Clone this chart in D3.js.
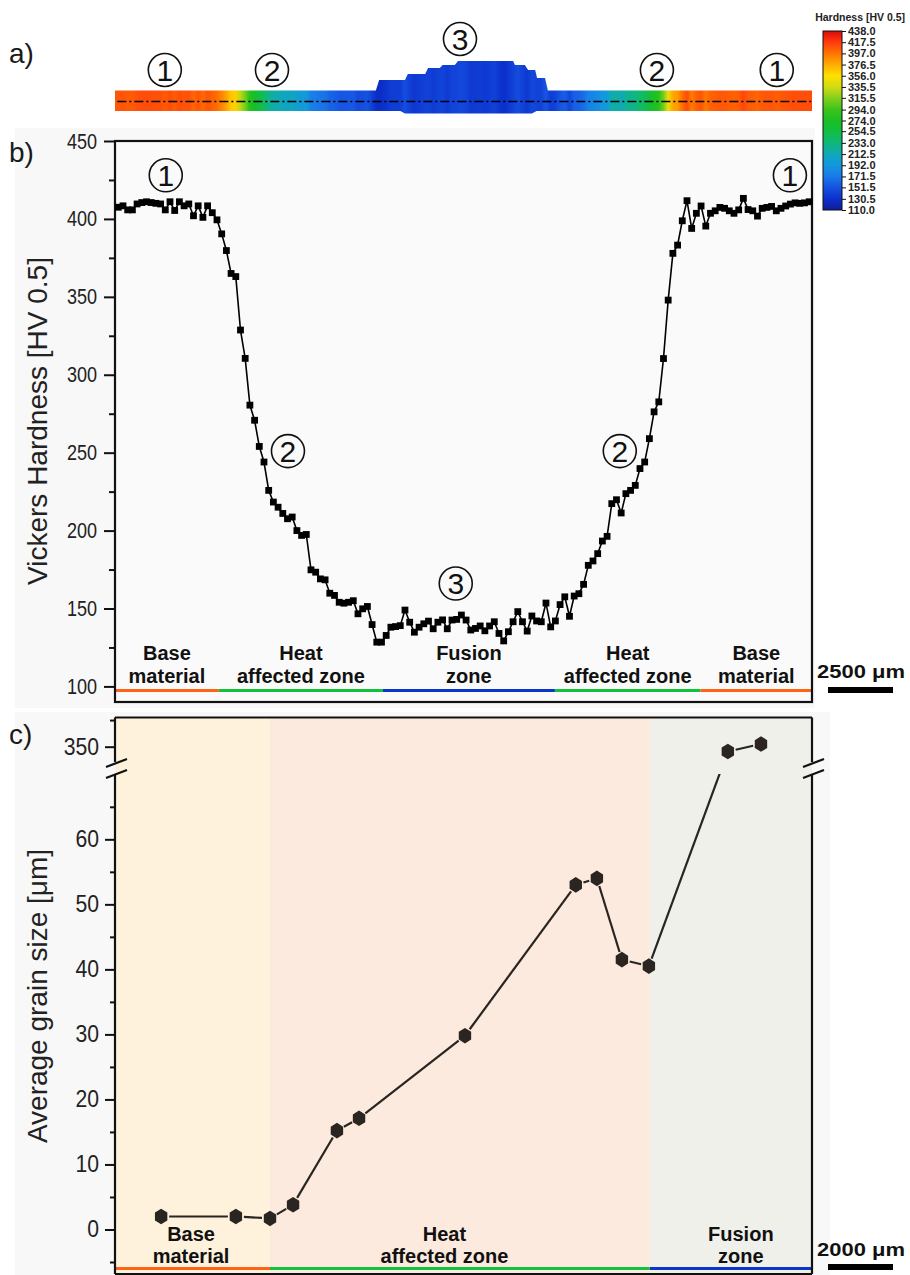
<!DOCTYPE html>
<html>
<head>
<meta charset="utf-8">
<script src="https://cdn.jsdelivr.net/npm/d3@7"></script>
<style>
  body { margin: 0; background: #fff; }
  svg { display: block; }
</style>
</head>
<body>
<div id="figure"></div>
<script>
// ---------- data ----------

// b) Vickers hardness, one value per indent, left to right
const hardness = [
  407.5, 408.4, 405.8, 405.8, 409.6, 410.5, 411, 410.5, 410, 409.6,
  405.8, 411, 405.4, 411, 408.4, 409.6, 402, 408.4, 401, 408.4,
  404, 399.4, 390.4, 379.7, 365, 363, 328.7, 310.5, 280.5,
  270.8, 254, 244, 225.8, 218.3, 215, 211, 207.6, 208.7, 200,
  196.9, 197.5, 174.8, 173.3, 169, 168.4, 159.8, 158.4, 154, 153.4,
  154, 155, 146.6, 149.8, 151.3, 139.7, 128.4, 128.4, 132.7, 138,
  138.4, 139, 149, 141.2, 134.8, 138, 140.2, 141.9, 137, 141.2,
  142.7, 137,
  142.6, 143, 145.8, 142.6, 136.2, 137.2, 138.8, 135.7, 138.8, 141.5,
  134, 129.2, 135.1, 141.5, 148, 141.5, 135.5, 145.2, 142, 141.5,
  153.5, 138.2, 142, 152.5, 157.5, 145, 158, 159.5, 165.5, 177.7,
  180.5, 185.2, 193.3, 196.3, 217.3, 219.8, 211.3, 223.7, 225.8, 229,
  239.8, 244, 259, 276.2, 282.6, 310.4, 347.9, 377.9, 383.2, 398.8,
  411.7, 393.9, 403.6, 408.3, 395.4, 403.6, 405.2, 407.4, 406.8, 405.2,
  403.6, 405.8, 413.2, 406, 405.2, 401.8, 406.8, 407.4, 408, 405.2,
  406.8, 408.3, 409.5, 410.3, 410, 410.3, 411
];
const hvTicks = [100, 150, 200, 250, 300, 350, 400, 450];
const hvMinorTicks = [125, 175, 225, 275, 325, 375, 425];

// zones along the hardness profile (indent-number units)
const profileZones = [
  { zone: "base", label: ["Base", "material"], from: -0.7, to: 21.4 },
  { zone: "haz", label: ["Heat", "affected zone"], from: 21.4, to: 56.3 },
  { zone: "fusion", label: ["Fusion", "zone"], from: 56.3, to: 92.9 },
  { zone: "haz", label: ["Heat", "affected zone"], from: 92.9, to: 123.9 },
  { zone: "base", label: ["Base", "material"], from: 123.9, to: 147.6 }
];

// circled region numbers in b) (indent number, HV)
const profileMarks = [
  { id: "1", at: 10.1, hv: 428 },
  { id: "2", at: 36.1, hv: 251 },
  { id: "3", at: 71.8, hv: 166 },
  { id: "2", at: 106.7, hv: 251 },
  { id: "1", at: 142.9, hv: 428 }
];

// a) circled region numbers above the hardness map (indent number)
const mapMarks = [
  { id: "1", at: 9.9, row: "low" },
  { id: "2", at: 32.7, row: "low" },
  { id: "3", at: 72.7, row: "high" },
  { id: "2", at: 114.6, row: "low" },
  { id: "1", at: 140.1, row: "low" }
];

// a) weld crown outline: [indent number, height above plate]
const weldCrown = [
  [54.8, 0], [55.5, 10.5], [61, 10.5], [61.6, 16.5], [65.3, 16.5], [65.9, 22.5],
  [68.4, 22.5], [69, 25.5], [71.6, 25.5], [72.3, 29.5], [84, 29.5], [84.4, 25.5],
  [86.5, 25.5], [87.2, 20.5], [88.7, 20.5], [89.1, 12.5], [90.8, 12.5], [91.4, 0]
];

// colour bar
const cbLabels = [438.0, 417.5, 397.0, 376.5, 356.0, 335.5, 315.5, 294.0, 274.0,
  254.5, 233.0, 212.5, 192.0, 171.5, 151.5, 130.5, 110.0];
const cbColors = ["#dc0a0a", "#ff3a10", "#ff7400", "#ffab00", "#ffe000", "#d2dc12",
  "#86d01c", "#3cc41c", "#19bf22", "#12bd42", "#10b878", "#10a8b8", "#1496e0",
  "#1a7ae8", "#1652e2", "#0c30cc", "#101c9c"];

// c) average grain size vs position (mm from left edge)
const grainPos = [1.42, 3.72, 4.77, 5.48, 6.83, 7.51, 10.77, 14.18, 14.83, 15.6, 16.43, 18.86, 19.88];
const grainSize = [2.0, 2.0, 1.7, 3.8, 15.2, 17.1, 29.8, 53.0, 54.0, 41.5, 40.5, 349.1, 350.5];
const grainTicks = [0, 10, 20, 30, 40, 50, 60];
const grainMinorTicks = [-5, 5, 15, 25, 35, 45, 55, 65];
const grainTicksHigh = [350];
const grainMinorTicksHigh = [355];
const grainZones = [
  { zone: "base", label: ["Base", "material"], from: 0, to: 4.77, labelAt: 2.34 },
  { zone: "haz", label: ["Heat", "affected zone"], from: 4.77, to: 16.46, labelAt: 10.14 },
  { zone: "fusion", label: ["Fusion", "zone"], from: 16.46, to: 21.45, labelAt: 19.26 }
];

const zoneLine = { base: "#ff6414", haz: "#12c23c", fusion: "#0c36c8" };
const zoneFill = { base: "#fef2dd", haz: "#fdeadf", fusion: "#eff0ea" };

// ---------- figure ----------
const W = 910, H = 1275;
const plainFont = "'Liberation Sans', Arial, sans-serif";
const boldFont = "'Liberation Sans', Arial, sans-serif";

const svg = d3.select("#figure")
  .append("svg")
  .attr("width", W)
  .attr("height", H)
  .style("background", "#fff");

const defs = svg.append("defs");

// squeeze a text horizontally, like the condensed faces of the original
function condense(sel, k) {
  sel.each(function () {
    const w = this.getComputedTextLength();
    d3.select(this).attr("textLength", w * k).attr("lengthAdjust", "spacingAndGlyphs");
  });
}

// shared horizontal position for a) and b)
const xB = d3.scaleLinear().domain([-0.7, 147.6]).range([115, 812]);
const yB = d3.scaleLinear().domain([90, 450]).range([702, 141]);

// hardness colour map
const cbScale = d3.scaleLinear().domain([110, 438]).range([210, 31]);
const hvColor = d3.scaleLinear()
  .domain(cbLabels)
  .range(cbColors)
  .clamp(true);

// light grey panels behind b) and c)
svg.append("rect").attr("x", 15).attr("y", 128).attr("width", 800).attr("height", 580).attr("fill", "#f8f8f8");
svg.append("rect").attr("x", 15).attr("y", 712).attr("width", 815).attr("height", 563).attr("fill", "#f8f8f8");

// panel letters
[["a)", 63], ["b)", 162], ["c)", 744]].forEach(function (p) {
  svg.append("text")
    .attr("x", 9).attr("y", p[1])
    .text(p[0])
    .style("font-family", plainFont)
    .style("font-size", "28px")
    .attr("fill", "#1a1a1a");
});

// ================= a) hardness map =================
const plateTop = 90.5, plateBottom = 111;

const mapGrad = defs.append("linearGradient")
  .attr("id", "mapGrad")
  .attr("gradientUnits", "userSpaceOnUse")
  .attr("x1", xB(0)).attr("x2", xB(hardness.length - 1))
  .attr("y1", 0).attr("y2", 0);

mapGrad.selectAll("stop")
  .data(hardness)
  .enter()
  .append("stop")
  .attr("offset", function (d, i) { return i / (hardness.length - 1); })
  .attr("stop-color", function (d) { return hvColor(d); });

const platePath = d3.path();
platePath.moveTo(xB(-0.7), plateTop);
weldCrown.forEach(function (p) {
  platePath.lineTo(xB(p[0]), plateTop - p[1]);
});
platePath.lineTo(xB(147.6), plateTop);
platePath.lineTo(xB(147.6), plateBottom);
platePath.lineTo(xB(89), plateBottom);
platePath.lineTo(xB(88), plateBottom + 2.5);
platePath.lineTo(xB(61), plateBottom + 2.5);
platePath.lineTo(xB(60), plateBottom);
platePath.lineTo(xB(-0.7), plateBottom);
platePath.closePath();

svg.append("path")
  .attr("d", platePath.toString())
  .attr("fill", "url(#mapGrad)");

// measurement line
svg.append("line")
  .attr("x1", xB(-0.2)).attr("x2", xB(147.4))
  .attr("y1", 101.5).attr("y2", 101.5)
  .attr("stroke", "#000")
  .attr("stroke-width", 1.4)
  .attr("stroke-dasharray", "9,3,2,3");

function circledNumber(g, cx, cy, id) {
  g.append("circle")
    .attr("cx", cx).attr("cy", cy).attr("r", 16.5)
    .attr("fill", "none")
    .attr("stroke", "#111")
    .attr("stroke-width", 1.6);
  g.append("text")
    .attr("x", cx).attr("y", cy + 10.5)
    .attr("text-anchor", "middle")
    .text(id)
    .style("font-family", plainFont)
    .style("font-size", "30px")
    .attr("fill", "#111");
}

mapMarks.forEach(function (m) {
  circledNumber(svg, xB(m.at), m.row === "high" ? 39 : 70, m.id);
});

// colour bar
const cbGrad = defs.append("linearGradient")
  .attr("id", "cbGrad")
  .attr("gradientUnits", "userSpaceOnUse")
  .attr("x1", 0).attr("x2", 0)
  .attr("y1", cbScale(110)).attr("y2", cbScale(438));

cbGrad.selectAll("stop")
  .data(cbLabels.slice().reverse())
  .enter()
  .append("stop")
  .attr("offset", function (d) { return (d - 110) / (438 - 110); })
  .attr("stop-color", function (d) { return hvColor(d); });

svg.append("rect")
  .attr("x", 823).attr("y", cbScale(438))
  .attr("width", 19).attr("height", cbScale(110) - cbScale(438))
  .attr("fill", "url(#cbGrad)")
  .attr("stroke", "#111")
  .attr("stroke-width", 1);

const cbAxis = svg.append("g")
  .attr("transform", "translate(842,0)")
  .call(d3.axisRight(cbScale).tickValues(cbLabels).tickSize(4).tickPadding(2)
    .tickFormat(d3.format(".1f")));
cbAxis.select(".domain").remove();
cbAxis.selectAll("line").attr("stroke", "#111");
cbAxis.selectAll("text")
  .style("font-family", plainFont)
  .style("font-size", "11px")
  .style("font-weight", "bold")
  .attr("fill", "#222");

svg.append("text")
  .attr("x", 905).attr("y", 21)
  .attr("text-anchor", "end")
  .text("Hardness [HV 0.5]")
  .style("font-family", plainFont)
  .style("font-size", "10.5px")
  .style("font-weight", "bold")
  .attr("fill", "#222");

// ================= b) hardness profile =================
svg.append("rect")
  .attr("x", 115).attr("y", 141)
  .attr("width", 697).attr("height", 561)
  .attr("fill", "#fafafa");

// two-line zone caption, one text element
function zoneLabel(g, cx, lines, y1, y2) {
  const t = g.append("text")
    .attr("text-anchor", "middle")
    .style("font-family", boldFont)
    .style("font-weight", "bold")
    .style("font-size", "20px")
    .attr("fill", "#111");
  t.append("tspan").attr("x", cx).attr("y", y1).text(lines[0]);
  t.append("tspan").attr("x", cx).attr("y", y2).text(lines[1]);
}

profileZones.forEach(function (z) {
  svg.append("line")
    .attr("x1", xB(z.from)).attr("x2", xB(z.to))
    .attr("y1", 690.5).attr("y2", 690.5)
    .attr("stroke", zoneLine[z.zone])
    .attr("stroke-width", 3);
  zoneLabel(svg, (xB(z.from) + xB(z.to)) / 2, z.label, 660, 682.5);
});

const yAxisB = svg.append("g")
  .attr("transform", "translate(115,0)")
  .call(d3.axisLeft(yB).tickValues(hvTicks).tickSize(11).tickPadding(7));
yAxisB.select(".domain").remove();
yAxisB.selectAll("line").attr("stroke", "#111").attr("stroke-width", 2);
yAxisB.selectAll("text")
  .style("font-family", plainFont)
  .style("font-size", "22px")
  .attr("fill", "#222")
  .call(condense, 0.82);

const yMinorB = svg.append("g")
  .attr("transform", "translate(115,0)")
  .call(d3.axisLeft(yB).tickValues(hvMinorTicks).tickSize(6).tickFormat(""));
yMinorB.select(".domain").remove();
yMinorB.selectAll("line").attr("stroke", "#111").attr("stroke-width", 2);

svg.append("rect")
  .attr("x", 115).attr("y", 141)
  .attr("width", 697).attr("height", 561)
  .attr("fill", "none")
  .attr("stroke", "#111")
  .attr("stroke-width", 2.2);

const hvLine = d3.line()
  .x(function (d, i) { return xB(i); })
  .y(function (d) { return yB(d); });

svg.append("path")
  .datum(hardness)
  .attr("d", hvLine)
  .attr("fill", "none")
  .attr("stroke", "#000")
  .attr("stroke-width", 1.6);

svg.selectAll(".hv-point")
  .data(hardness)
  .enter()
  .append("rect")
  .attr("class", "hv-point")
  .attr("x", function (d, i) { return xB(i) - 3.4; })
  .attr("y", function (d) { return yB(d) - 3.4; })
  .attr("width", 6.8)
  .attr("height", 6.8)
  .attr("fill", "#000");

profileMarks.forEach(function (m) {
  circledNumber(svg, xB(m.at), yB(m.hv), m.id);
});

svg.append("text")
  .attr("transform", "translate(47,421) rotate(-90)")
  .attr("text-anchor", "middle")
  .text("Vickers Hardness [HV 0.5]")
  .style("font-family", plainFont)
  .style("font-size", "28px")
  .attr("fill", "#222");

function scaleBar(g, label, textY, barY) {
  g.append("text")
    .attr("x", 861).attr("y", textY)
    .attr("text-anchor", "middle")
    .text(label)
    .style("font-family", boldFont)
    .style("font-weight", "bold")
    .style("font-size", "18px")
    .attr("fill", "#111")
    .attr("textLength", 88)
    .attr("lengthAdjust", "spacingAndGlyphs");
  g.append("rect")
    .attr("x", 828).attr("y", barY)
    .attr("width", 65).attr("height", 6)
    .attr("fill", "#000");
}
scaleBar(svg, "2500 \u03bcm", 678, 687);

// ================= c) grain size =================
const xC = d3.scaleLinear().domain([0, 21.45]).range([115, 812]);
const yCl = d3.scaleLinear().domain([-7, 70.2]).range([1275, 773]);
const yCu = d3.scaleLinear().domain([346.6, 355.5]).range([764.8, 717.4]);
const cTop = 717.5, cBottom = 1274, breakTop = 762, breakBottom = 774;

grainZones.forEach(function (z) {
  svg.append("rect")
    .attr("x", xC(z.from)).attr("y", cTop)
    .attr("width", xC(z.to) - xC(z.from))
    .attr("height", cBottom - cTop)
    .attr("fill", zoneFill[z.zone]);
  svg.append("line")
    .attr("x1", xC(z.from)).attr("x2", xC(z.to))
    .attr("y1", 1268.5).attr("y2", 1268.5)
    .attr("stroke", zoneLine[z.zone])
    .attr("stroke-width", 3);
  zoneLabel(svg, xC(z.labelAt), z.label, 1240.5, 1263);
});

function gAxis(scale, major, minor) {
  const a = svg.append("g")
    .attr("transform", "translate(115,0)")
    .call(d3.axisLeft(scale).tickValues(major).tickSize(10).tickPadding(6));
  a.select(".domain").remove();
  a.selectAll("line").attr("stroke", "#111").attr("stroke-width", 2);
  a.selectAll("text")
    .style("font-family", plainFont)
    .style("font-size", "23px")
    .attr("fill", "#222")
    .call(condense, 0.92);
  const m = svg.append("g")
    .attr("transform", "translate(115,0)")
    .call(d3.axisLeft(scale).tickValues(minor).tickSize(5).tickFormat(""));
  m.select(".domain").remove();
  m.selectAll("line").attr("stroke", "#111").attr("stroke-width", 2);
}
gAxis(yCl, grainTicks, grainMinorTicks);
gAxis(yCu, grainTicksHigh, grainMinorTicksHigh);

// frame with axis break
const frame = svg.append("g")
  .attr("stroke", "#111")
  .attr("stroke-width", 2.2)
  .attr("fill", "none");
frame.append("line").attr("x1", 115).attr("x2", 812).attr("y1", cTop).attr("y2", cTop);
frame.append("line").attr("x1", 115).attr("x2", 812).attr("y1", cBottom).attr("y2", cBottom);
[115, 812].forEach(function (x) {
  frame.append("line").attr("x1", x).attr("x2", x).attr("y1", cTop).attr("y2", breakTop);
  frame.append("line").attr("x1", x).attr("x2", x).attr("y1", breakBottom).attr("y2", cBottom);
  frame.append("line").attr("x1", x - 9).attr("x2", x + 12).attr("y1", breakTop + 5).attr("y2", breakTop - 3);
  frame.append("line").attr("x1", x - 9).attr("x2", x + 12).attr("y1", breakBottom + 4).attr("y2", breakBottom - 4);
});

// grain size points: position on the broken axis
const grain = grainPos.map(function (p, i) {
  const v = grainSize[i];
  return { x: xC(p), y: v > 100 ? yCu(v) : yCl(v), high: v > 100 };
});

defs.append("clipPath")
  .attr("id", "lowerClip")
  .append("rect")
  .attr("x", 115).attr("y", breakBottom)
  .attr("width", 697).attr("height", cBottom - breakBottom);

const gap = 8;
d3.pairs(grain).forEach(function (pair) {
  const a = pair[0], b = pair[1];
  const dx = b.x - a.x, dy = b.y - a.y;
  const len = Math.sqrt(dx * dx + dy * dy);
  const ux = dx / len, uy = dy / len;
  const seg = svg.append("line")
    .attr("x1", a.x + ux * gap).attr("y1", a.y + uy * gap)
    .attr("x2", b.x - ux * gap).attr("y2", b.y - uy * gap)
    .attr("stroke", "#2a2520")
    .attr("stroke-width", 2.2);
  if (a.high !== b.high) seg.attr("clip-path", "url(#lowerClip)");
});

const hexagon = "M0,-7.8L6.2,-3.9L6.2,3.9L0,7.8L-6.2,3.9L-6.2,-3.9Z";
svg.selectAll(".grain-point")
  .data(grain)
  .enter()
  .append("path")
  .attr("class", "grain-point")
  .attr("d", hexagon)
  .attr("transform", function (d) { return "translate(" + d.x + "," + d.y + ")"; })
  .attr("fill", "#2a2520");

svg.append("text")
  .attr("transform", "translate(47,996) rotate(-90)")
  .attr("text-anchor", "middle")
  .text("Average grain size [\u03bcm]")
  .style("font-family", plainFont)
  .style("font-size", "28px")
  .attr("fill", "#222");

scaleBar(svg, "2000 \u03bcm", 1256, 1264);
</script>
</body>
</html>
